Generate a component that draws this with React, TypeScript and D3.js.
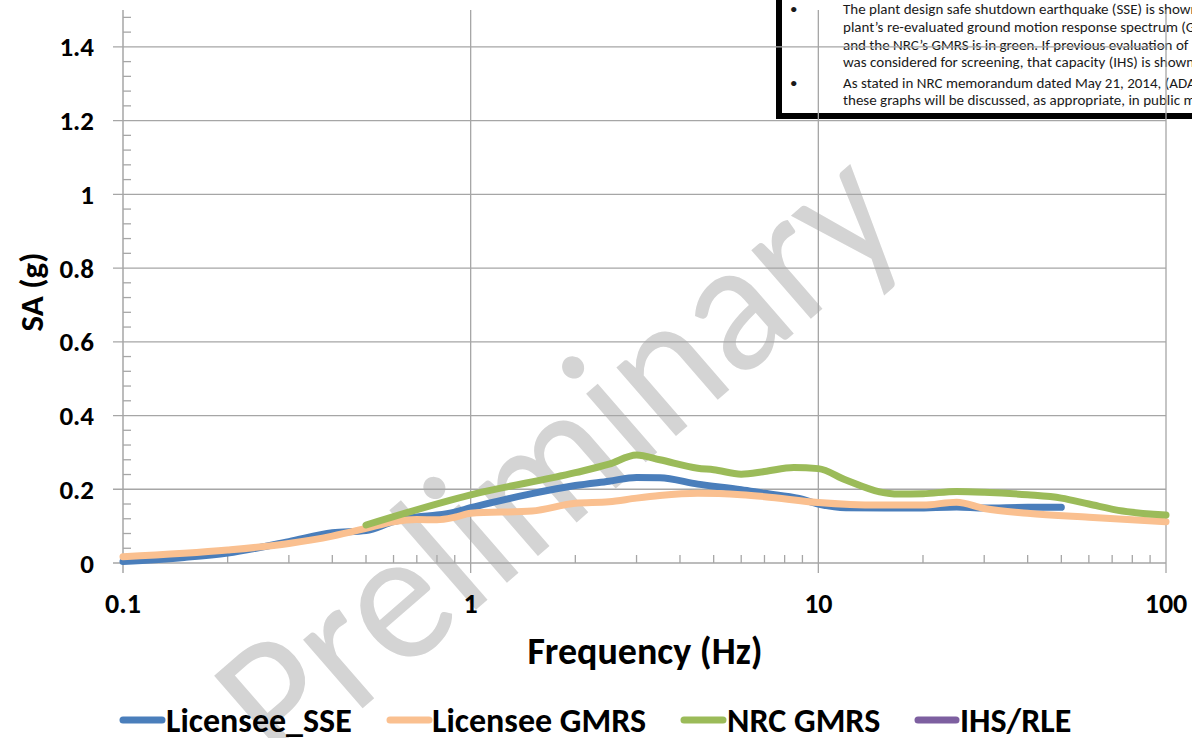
import React from "react";
import * as d3 from "d3";

const sseFreq = [0.1, 0.15, 0.2, 0.3, 0.4, 0.5, 0.6, 0.7, 0.8, 0.9, 1.0, 1.2, 1.5, 2.0, 2.5, 3.0, 3.5, 4.5, 6.0, 7.0, 8.8, 10, 12, 19, 25, 30, 40, 50];
const sseSA = [0.004, 0.015, 0.027, 0.058, 0.082, 0.088, 0.112, 0.125, 0.13, 0.138, 0.15, 0.168, 0.188, 0.21, 0.222, 0.232, 0.231, 0.214, 0.199, 0.189, 0.175, 0.16, 0.15, 0.149, 0.152, 0.149, 0.151, 0.151];

const gmrsFreq = [0.1, 0.2, 0.3, 0.4, 0.5, 0.6, 0.7, 0.8, 0.9, 1.0, 1.5, 2.0, 2.5, 3.0, 3.5, 4.5, 6.0, 7.0, 10, 15, 20, 25, 30, 40, 60, 100];
const gmrsSA = [0.017, 0.035, 0.053, 0.073, 0.094, 0.112, 0.118, 0.117, 0.124, 0.135, 0.141, 0.162, 0.166, 0.176, 0.183, 0.189, 0.185, 0.18, 0.164, 0.157, 0.157, 0.165, 0.148, 0.135, 0.124, 0.112];

const nrcFreq = [0.5, 1.0, 2.0, 2.5, 3.0, 3.5, 4.5, 5, 6, 7, 8.5, 10, 12, 15, 17, 20, 25, 30, 40, 50, 60, 75, 100];
const nrcSA = [0.103, 0.185, 0.245, 0.268, 0.293, 0.28, 0.257, 0.253, 0.241, 0.248, 0.259, 0.256, 0.225, 0.193, 0.187, 0.188, 0.194, 0.192, 0.185, 0.176, 0.16, 0.141, 0.13];

const xTickValues = [0.1, 1, 10, 100];
const xTickLabels = ["0.1", "1", "10", "100"];
const yTickValues = [0, 0.2, 0.4, 0.6, 0.8, 1, 1.2, 1.4];
const yTickLabels = ["0", "0.2", "0.4", "0.6", "0.8", "1", "1.2", "1.4"];

const seriesNames = ["Licensee_SSE", "Licensee GMRS", "NRC GMRS", "IHS/RLE"];
const seriesColors = ["#4a7ebb", "#fac090", "#9bbb59", "#7d5fa0"];

const noteLines = [
  { bullet: true, text: "The plant design safe shutdown earthquake (SSE) is shown in blue, the" },
  { bullet: false, text: "plant\u2019s re-evaluated ground motion response spectrum (GMRS) is in orange," },
  { bullet: false, text: "and the NRC\u2019s GMRS is in green. If previous evaluation of" },
  { bullet: false, text: "was considered for screening, that capacity (IHS) is shown" },
  { bullet: true, text: "As stated in NRC memorandum dated May 21, 2014, (ADAMS" },
  { bullet: false, text: "these graphs will be discussed, as appropriate, in public meetings" },
];

const W = 1192;
const H = 738;
const FONT = "Carlito, Calibri, Lato, 'Open Sans', sans-serif";
const GRID = "#a6a6a6";

export default function App() {
  const x = d3.scaleLog().domain([0.1, 100]).range([123, 1166]);
  const y = d3.scaleLinear().domain([0, 1.5]).range([563, 10]);

  const line = d3
    .line<[number, number]>()
    .x((d) => x(d[0]))
    .y((d) => y(d[1]))
    .curve(d3.curveMonotoneX);

  const series = [
    sseFreq.map((f, i) => [f, sseSA[i]] as [number, number]),
    gmrsFreq.map((f, i) => [f, gmrsSA[i]] as [number, number]),
    nrcFreq.map((f, i) => [f, nrcSA[i]] as [number, number]),
  ];

  const minorX: number[] = [];
  for (const dec of [0.1, 1, 10]) {
    for (let k = 2; k <= 9; k++) minorX.push(dec * k);
  }
  const minorY: number[] = [];
  for (let v = 0.04; v <= 1.5 + 1e-9; v += 0.04) {
    if (Math.abs(v / 0.2 - Math.round(v / 0.2)) > 1e-6) minorY.push(v);
  }

  const legendItems = [
    { x0: 123, x1: 162, tx: 166 },
    { x0: 390, x1: 429, tx: 432 },
    { x0: 684, x1: 723, tx: 727 },
    { x0: 918, x1: 956, tx: 960 },
  ];

  return (
    <svg
      width={W}
      height={H}
      style={{ position: "absolute", left: 0, top: 0, background: "#fff" }}
      fontFamily={FONT}
    >
      <rect x={0} y={0} width={W} height={H} fill="#fff" />
      {/* watermark */}
      <text
        x={555}
        y={455}
        transform="rotate(-41 555 455)"
        textAnchor="middle"
        dominantBaseline="central"
        fontSize={190}
        fill="#d4d4d4"
        textLength={830}
        lengthAdjust="spacingAndGlyphs"
      >
        Preliminary
      </text>

      {/* note box */}
      <rect x={779} y={-20} width={500} height={136} fill="none" stroke="#000" strokeWidth={6} />
      {noteLines.map((l, i) => {
        const ty = [14, 32, 50, 67, 88, 105][i];
        return (
          <g key={i} fontSize={15} fill="#1a1a1a">
            {l.bullet && (
              <text x={790} y={ty}>
                {"\u2022"}
              </text>
            )}
            <text x={843} y={ty}>
              {l.text}
            </text>
          </g>
        );
      })}

      {/* horizontal gridlines */}
      {yTickValues.slice(1).map((v) => (
        <line key={"hg" + v} x1={113} x2={1166} y1={y(v)} y2={y(v)} stroke={GRID} strokeWidth={1.3} />
      ))}
      {/* vertical gridlines */}
      {xTickValues.slice(1).map((v) => (
        <line key={"vg" + v} x1={x(v)} x2={x(v)} y1={10} y2={573} stroke={GRID} strokeWidth={1.3} />
      ))}
      {/* axes */}
      <line x1={123} x2={123} y1={10} y2={573} stroke={GRID} strokeWidth={1.5} />
      <line x1={113} x2={1166} y1={563} y2={563} stroke={GRID} strokeWidth={1.5} />
      {minorY.map((v) => (
        <line key={"my" + v} x1={123} x2={131} y1={y(v)} y2={y(v)} stroke={GRID} strokeWidth={1.3} />
      ))}
      {minorX.map((v) => (
        <line key={"mx" + v} x1={x(v)} x2={x(v)} y1={555} y2={563} stroke={GRID} strokeWidth={1.3} />
      ))}

      {/* y tick labels */}
      {yTickValues.map((v, i) => (
        <text
          key={"yl" + v}
          x={94}
          y={y(v)}
          textAnchor="end"
          dominantBaseline="central"
          fontSize={27}
          fontWeight="bold"
          fill="#000"
        >
          {yTickLabels[i]}
        </text>
      ))}
      {/* x tick labels */}
      {xTickValues.map((v, i) => (
        <text
          key={"xl" + v}
          x={x(v)}
          y={613}
          textAnchor="middle"
          fontSize={28}
          fontWeight="bold"
          fill="#000"
        >
          {xTickLabels[i]}
        </text>
      ))}

      {/* axis titles */}
      <text x={645} y={664} textAnchor="middle" fontSize={38} fontWeight="bold" fill="#000">
        Frequency (Hz)
      </text>
      <text
        transform="translate(43 292) rotate(-90)"
        textAnchor="middle"
        fontSize={33}
        fontWeight="bold"
        fill="#000"
      >
        SA (g)
      </text>

      {/* series */}
      {series.map((s, i) => (
        <path
          key={"s" + i}
          d={line(s) || ""}
          fill="none"
          stroke={seriesColors[i]}
          strokeWidth={7}
          strokeLinecap="round"
          strokeLinejoin="round"
        />
      ))}

      {/* legend */}
      {legendItems.map((it, i) => (
        <g key={"lg" + i}>
          <line
            x1={it.x0}
            x2={it.x1}
            y1={720}
            y2={720}
            stroke={seriesColors[i]}
            strokeWidth={7}
            strokeLinecap="round"
          />
          <text x={it.tx} y={732} fontSize={34} fontWeight="bold" fill="#000">
            {seriesNames[i]}
          </text>
        </g>
      ))}
    </svg>
  );
}
